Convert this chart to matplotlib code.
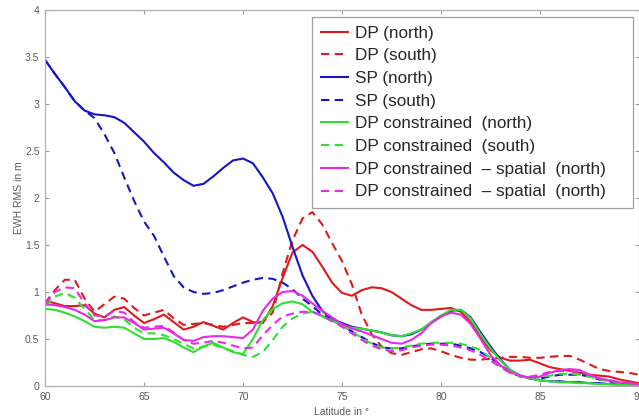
import numpy as np
import matplotlib
matplotlib.use('Agg')
import matplotlib.pyplot as plt

plt.rcParams['font.family'] = ['Liberation Sans', 'DejaVu Sans']

## latitude grid (deg)
lat = [60, 60.5, 61, 61.5, 62, 62.5, 63, 63.5, 64, 64.5, 65, 65.5, 66, 66.5, 67, 67.5,
       68, 68.5, 69, 69.5, 70, 70.5, 71, 71.5, 72, 72.5, 73, 73.5, 74, 74.5, 75, 75.5,
       76, 76.5, 77, 77.5, 78, 78.5, 79, 79.5, 80, 80.5, 81, 81.5, 82, 82.5, 83, 83.5,
       84, 84.5, 85, 85.5, 86, 86.5, 87, 87.5, 88, 88.5, 89, 89.5, 90]

## EWH RMS in m
dp_north = [0.91, 0.88, 0.85, 0.85, 0.86, 0.77, 0.73, 0.81, 0.84, 0.75, 0.67, 0.71, 0.76, 0.68, 0.60, 0.63,
            0.68, 0.64, 0.60, 0.67, 0.73, 0.68, 0.67, 0.85, 1.15, 1.42, 1.50, 1.43, 1.27, 1.10, 0.99, 0.96,
            1.02, 1.05, 1.04, 1.00, 0.93, 0.86, 0.81, 0.81, 0.82, 0.83, 0.79, 0.68, 0.52, 0.38, 0.30, 0.27,
            0.27, 0.28, 0.24, 0.20, 0.18, 0.16, 0.14, 0.12, 0.11, 0.10, 0.07, 0.05, 0.03]
dp_south = [0.88, 1.02, 1.13, 1.13, 0.93, 0.79, 0.87, 0.95, 0.93, 0.83, 0.75, 0.78, 0.81, 0.72, 0.65, 0.66,
            0.67, 0.65, 0.63, 0.65, 0.67, 0.67, 0.68, 0.78, 1.20, 1.55, 1.78, 1.85, 1.72, 1.52, 1.33, 1.08,
            0.76, 0.55, 0.42, 0.35, 0.33, 0.36, 0.39, 0.40, 0.37, 0.33, 0.30, 0.28, 0.28, 0.29, 0.30, 0.31,
            0.31, 0.30, 0.30, 0.31, 0.32, 0.32, 0.28, 0.23, 0.18, 0.16, 0.15, 0.14, 0.12]
sp_north = [3.47, 3.32, 3.18, 3.03, 2.93, 2.89, 2.88, 2.86, 2.80, 2.70, 2.60, 2.48, 2.38, 2.27, 2.19, 2.13,
            2.15, 2.23, 2.32, 2.40, 2.42, 2.37, 2.22, 2.05, 1.80, 1.48, 1.18, 0.96, 0.80, 0.71, 0.67, 0.63,
            0.61, 0.59, 0.57, 0.54, 0.53, 0.55, 0.60, 0.67, 0.74, 0.80, 0.81, 0.73, 0.57, 0.42, 0.28, 0.17,
            0.11, 0.08, 0.06, 0.05, 0.05, 0.04, 0.04, 0.03, 0.03, 0.02, 0.02, 0.01, 0.01]
sp_south = [3.47, 3.32, 3.18, 3.03, 2.93, 2.85, 2.68, 2.48, 2.22, 1.97, 1.75, 1.60, 1.38, 1.17, 1.05, 1.00,
            0.98, 0.99, 1.02, 1.06, 1.10, 1.13, 1.15, 1.14, 1.10, 1.03, 0.93, 0.85, 0.76, 0.70, 0.64, 0.58,
            0.52, 0.46, 0.41, 0.40, 0.40, 0.42, 0.44, 0.45, 0.45, 0.45, 0.43, 0.40, 0.36, 0.30, 0.22, 0.15,
            0.10, 0.08, 0.08, 0.10, 0.12, 0.12, 0.12, 0.10, 0.07, 0.05, 0.03, 0.02, 0.01]
dpc_north = [0.82, 0.81, 0.78, 0.74, 0.69, 0.63, 0.62, 0.63, 0.62, 0.56, 0.50, 0.50, 0.51, 0.47, 0.41, 0.36,
             0.42, 0.46, 0.41, 0.36, 0.34, 0.50, 0.70, 0.82, 0.88, 0.90, 0.87, 0.79, 0.74, 0.69, 0.65, 0.62,
             0.61, 0.59, 0.57, 0.54, 0.53, 0.56, 0.60, 0.68, 0.75, 0.81, 0.81, 0.72, 0.55, 0.40, 0.27, 0.17,
             0.11, 0.08, 0.06, 0.05, 0.04, 0.04, 0.03, 0.03, 0.02, 0.02, 0.01, 0.01, 0.01]
dpc_south = [0.85, 0.95, 0.99, 0.94, 0.82, 0.70, 0.70, 0.74, 0.71, 0.62, 0.56, 0.56, 0.54, 0.50, 0.45, 0.40,
             0.42, 0.44, 0.40, 0.37, 0.33, 0.31, 0.36, 0.49, 0.63, 0.72, 0.77, 0.79, 0.75, 0.70, 0.64, 0.58,
             0.51, 0.45, 0.41, 0.40, 0.41, 0.43, 0.45, 0.46, 0.46, 0.46, 0.45, 0.42, 0.38, 0.30, 0.21, 0.14,
             0.10, 0.09, 0.09, 0.11, 0.13, 0.13, 0.12, 0.10, 0.07, 0.05, 0.03, 0.02, 0.01]
dpcs_north = [0.87, 0.86, 0.84, 0.81, 0.76, 0.69, 0.70, 0.73, 0.73, 0.67, 0.60, 0.61, 0.62, 0.56, 0.49, 0.48,
              0.52, 0.53, 0.53, 0.52, 0.51, 0.60, 0.80, 0.93, 1.00, 1.01, 0.96, 0.88, 0.80, 0.73, 0.66, 0.61,
              0.58, 0.54, 0.50, 0.46, 0.45, 0.49, 0.56, 0.67, 0.74, 0.78, 0.76, 0.66, 0.50, 0.33, 0.22, 0.15,
              0.11, 0.09, 0.10, 0.14, 0.17, 0.18, 0.17, 0.12, 0.08, 0.06, 0.04, 0.03, 0.02]
dpcs_south = [0.87, 1.00, 1.05, 1.04, 0.88, 0.75, 0.74, 0.80, 0.78, 0.68, 0.62, 0.63, 0.64, 0.57, 0.49, 0.45,
              0.46, 0.48, 0.46, 0.43, 0.40, 0.41, 0.54, 0.65, 0.74, 0.77, 0.79, 0.79, 0.75, 0.69, 0.63, 0.56,
              0.49, 0.43, 0.39, 0.37, 0.38, 0.41, 0.43, 0.44, 0.44, 0.43, 0.41, 0.38, 0.33, 0.27, 0.20, 0.14,
              0.11, 0.10, 0.12, 0.15, 0.16, 0.16, 0.15, 0.12, 0.08, 0.06, 0.04, 0.03, 0.02]

labels = ['DP (north)', 'DP (south)', 'SP (north)', 'SP (south)',
          'DP constrained  (north)', 'DP constrained  (south)',
          'DP constrained  \u2013 spatial  (north)', 'DP constrained  \u2013 spatial  (north)']

red = '#e0191c'
blue = '#1414c8'
green = '#2fe02f'
magenta = '#e52be5'

fig = plt.figure(figsize=(6.39, 4.18), dpi=100)
ax = fig.add_axes([45/639, 32/418, 594/639, 376/418])

dash = (0, (4, 2.6))
series = [(dp_north, red, '-'), (dp_south, red, dash),
          (sp_north, blue, '-'), (sp_south, blue, dash),
          (dpc_north, green, '-'), (dpc_south, green, dash),
          (dpcs_north, magenta, '-'), (dpcs_south, magenta, dash)]
for (vals, col, ls), lab in zip(series, labels):
    ax.plot(lat, vals, color=col, linestyle=ls, linewidth=1.5, label=lab)

ax.set_xlim(60, 90)
ax.set_ylim(0, 4)
ax.set_xticks([60, 65, 70, 75, 80, 85, 90])
ax.set_yticks([0, 0.5, 1, 1.5, 2, 2.5, 3, 3.5, 4])
ax.set_yticklabels(['0', '0.5', '1', '1.5', '2', '2.5', '3', '3.5', '4'])
ax.tick_params(direction='in', top=True, right=True, length=3, width=0.8,
               color='#9a9a9a', labelcolor='#5a5a5a', labelsize=7.5, pad=4)
for s in ax.spines.values():
    s.set_color('#b0b0b0')
    s.set_linewidth(0.9)

ax.set_xlabel('Latitude in \u00b0', fontsize=7.5, color='#5a5a5a', labelpad=4)
ax.set_ylabel('EWH RMS in m', fontsize=7.5, color='#5a5a5a', labelpad=1)

leg = ax.legend(loc='upper left', bbox_to_anchor=(0.4495, 0.476, 0.5405, 0.505),
                mode='expand', borderaxespad=0, fontsize=12.3, fancybox=False,
                framealpha=1, edgecolor='#a0a0a0', handlelength=1.6,
                handletextpad=0.42, labelspacing=0.45, borderpad=0.5)
leg.get_frame().set_linewidth(0.9)
for t in leg.get_texts():
    t.set_color('#262626')

plt.savefig('out.png', dpi=100)
